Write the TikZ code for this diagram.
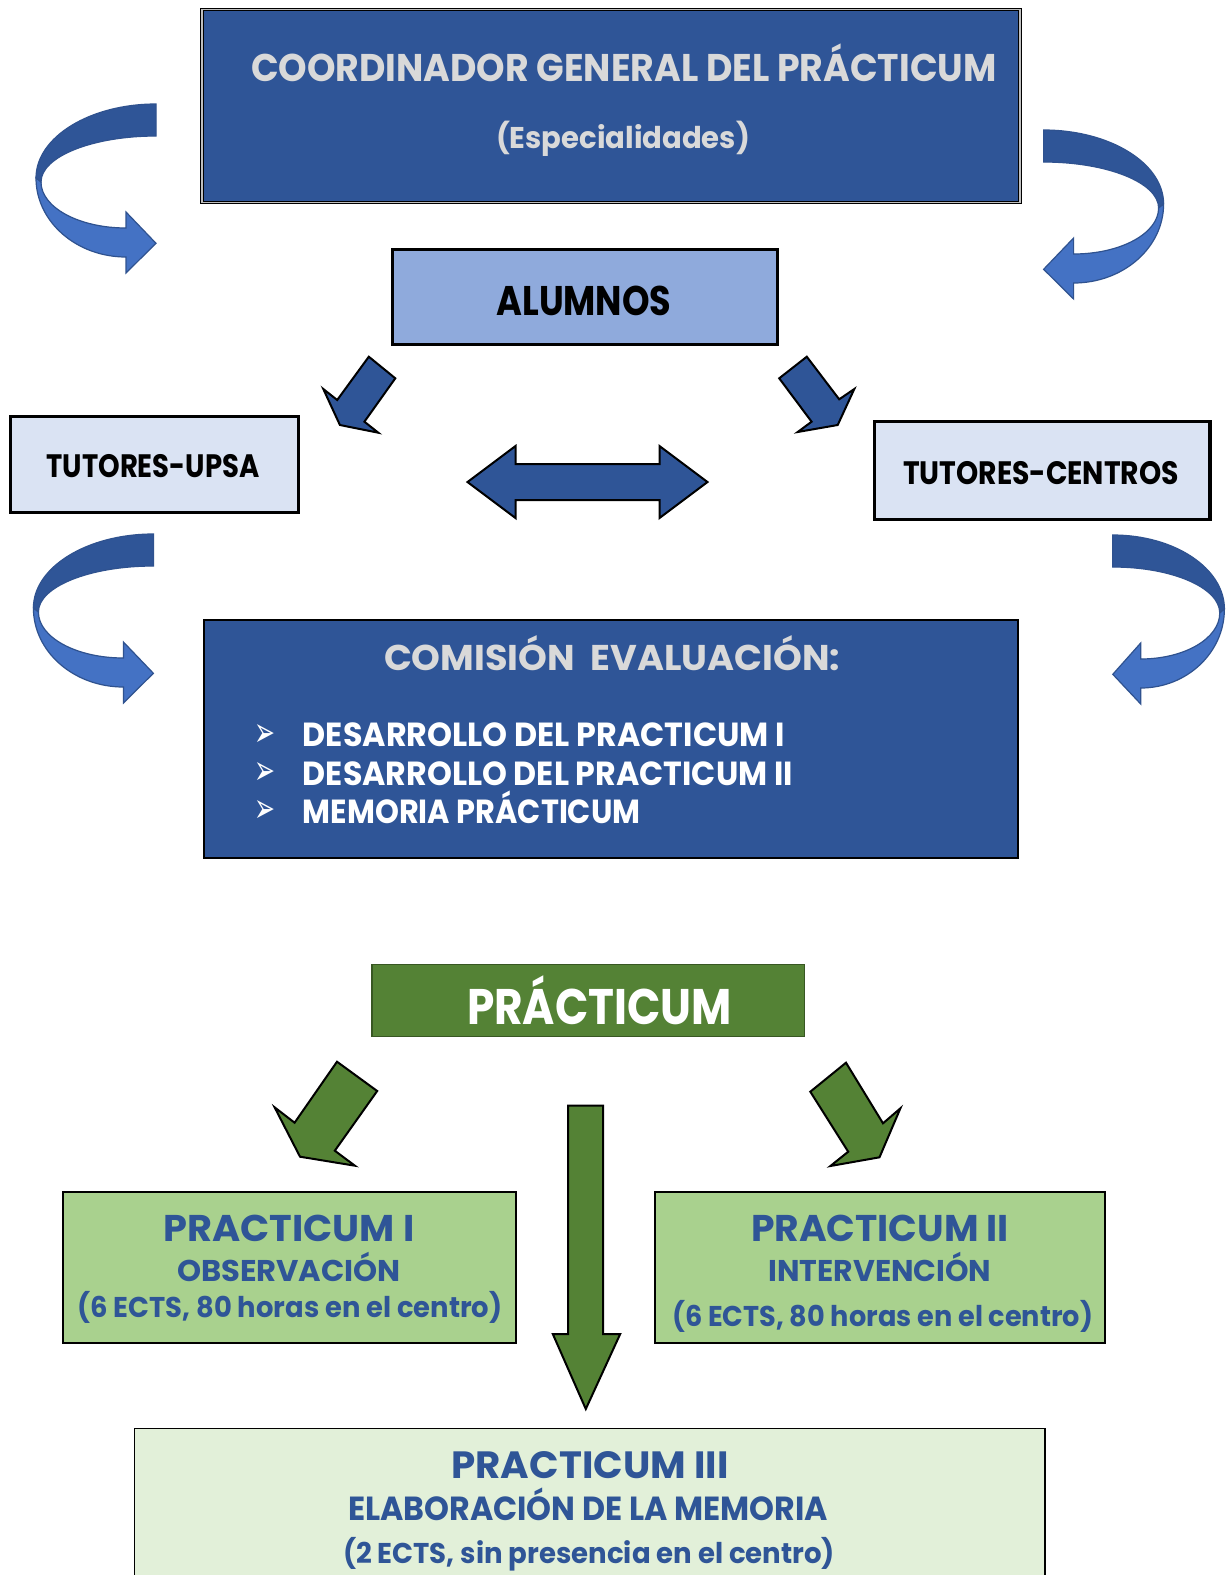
\documentclass[tikz,border=0pt]{standalone}
\usepackage{fontspec}
\usepackage{graphicx}
\newfontfamily\pop{Poppins}
\newfontfamily\dejavu{DejaVu Sans}
\definecolor{cdark}{HTML}{2F5597}
\definecolor{clight}{HTML}{4472C4}
\definecolor{cline}{HTML}{2F528F}
\definecolor{calum}{HTML}{8FAADC}
\definecolor{ctut}{HTML}{DAE3F3}
\definecolor{cgrey}{HTML}{D9D9D9}
\definecolor{cgreen}{HTML}{548235}
\definecolor{cgreenline}{HTML}{385723}
\definecolor{cgreenmid}{HTML}{A9D18E}
\definecolor{cgreenpale}{HTML}{E2F0D9}
\newlength\fitlen
\newcommand\fitw[2]{\settowidth{\fitlen}{#2}\pgfmathsetmacro\fitsx{#1/\fitlen}\scalebox{\fitsx}[1]{#2}}
\newcommand\fs[1]{\fontsize{#1}{#1}\selectfont}
\newcommand\ribbonarrow[3]{%
\begin{scope}[shift={(#1,#2)}, xscale=#3]
 \path[fill=cdark, draw=cline, line width=0.6pt] (0,0) .. controls (-66.2,0) and (-120,33.2) .. (-120,74) -- (-115,78) .. controls (-115,52.6) and (-63.5,32) .. (0,32) -- cycle;
 \path[fill=clight, draw=cline, line width=0.6pt] (-120,74) .. controls (-120,117.6) and (-79.7,153) .. (-30,153) -- (-30,169) -- (0,139.3) -- (-30,108) -- (-30,124) .. controls (-77,124) and (-115,103.4) .. (-115,78) -- cycle;
\end{scope}}
\tikzset{
 lbl/.style={anchor=base, inner sep=0pt},
 darkbox/.style={fill=cdark, draw=black, line width=1pt, inner sep=0pt},
 tutbox/.style={fill=ctut, draw=black, line width=1.6pt, inner sep=0pt},
 greenbox/.style={draw=black, line width=1pt, inner sep=0pt},
 bluearrow/.style={fill=cdark, draw=black, line width=1pt, line join=miter},
 greenarrow/.style={fill=cgreen, draw=black, line width=1pt, line join=miter},
 bullet/.style={anchor=center, inner sep=0pt, text=white, font=\dejavu\fs{13}},
}
\begin{document}
\begin{tikzpicture}[x=0.5pt,y=-0.5pt]
\useasboundingbox (0,0) rectangle (1232,1575);
\clip (0,0) rectangle (1232,1575);
\fill[white] (0,0) rectangle (1232,1575);

% Coordinator
\node[fill=cdark, draw=black, double=gray!50, double distance=0.8pt, line width=0.5pt, inner sep=0pt,
      minimum width=409pt, minimum height=96.5pt] (coord) at (610.9,105.8) {};
\node[lbl, text=cgrey, font=\pop\bfseries\fs{19.3}] (coordt) at (623.8,81.7) {\fitw{372.8pt}{COORDINADOR GENERAL DEL PRÁCTICUM}};
\node[lbl, text=cgrey, font=\pop\bfseries\fs{15}] (esp) at (623,148) {\fitw{127pt}{(Especialidades)}};

% Alumnos
\node[fill=calum, draw=black, line width=1.6pt, inner sep=0pt, minimum width=192.4pt, minimum height=47.3pt] (alum) at (585.25,297.15) {};
\node[lbl, font=\pop\bfseries\fs{20.7}] (alumt) at (584,315) {\fitw{87.5pt}{ALUMNOS}};

% Tutores
\node[tutbox, minimum width=144.3pt, minimum height=48pt] (tupsa) at (154.55,464.5) {};
\node[lbl, font=\pop\bfseries\fs{16.2}] (tupsat) at (153,477.7) {\fitw{106.5pt}{TUTORES-UPSA}};
\node[tutbox, minimum width=167.8pt, minimum height=48.8pt] (tcen) at (1042.2,470.35) {};
\node[lbl, font=\pop\bfseries\fs{16.2}] (tcent) at (1041,484.3) {\fitw{138pt}{TUTORES-CENTROS}};

% Comision
\node[darkbox, minimum width=407pt, minimum height=119pt] (com) at (611.2,739.3) {};
\node[lbl, text=cgrey, font=\pop\bfseries\fs{17.9}] (comt) at (612,670) {\fitw{228pt}{COMISIÓN\ \ EVALUACIÓN:}};
\node[bullet] (b1) at (264.5,735) {\resizebox*{10.5pt}{11pt}{➢}};
\node[bullet] (b2) at (264.5,773.3) {\resizebox*{10.5pt}{11pt}{➢}};
\node[bullet] (b3) at (264.5,811.7) {\resizebox*{10.5pt}{11pt}{➢}};
\node[anchor=base west, inner sep=0pt, text=white, font=\pop\bfseries\fs{16.7}] (l1) at (302.5,746.7) {\fitw{241pt}{DESARROLLO DEL PRACTICUM I}};
\node[anchor=base west, inner sep=0pt, text=white, font=\pop\bfseries\fs{16.7}] (l2) at (302.5,785) {\fitw{245pt}{DESARROLLO DEL PRACTICUM II}};
\node[anchor=base west, inner sep=0pt, text=white, font=\pop\bfseries\fs{16.7}] (l3) at (302.5,823.3) {\fitw{168.8pt}{MEMORIA PRÁCTICUM}};

% Curved ribbon arrows
\ribbonarrow{156}{104}{1}
\ribbonarrow{1043.6}{130}{-1}
\ribbonarrow{153.4}{534}{1}
\ribbonarrow{1112.8}{535}{-0.93}

% Blue block arrows
\path[bluearrow] (368.8,356.7) -- (395.3,378.3) -- (364.4,421.7) -- (378.3,432.7) -- (339.9,425) -- (323.3,389) -- (337.2,400) -- cycle;
\path[bluearrow] (779.2,378.3) -- (806.8,356.7) -- (839.2,399.3) -- (854.3,389) -- (837.7,425) -- (797.7,432) -- (811.6,421.7) -- cycle;
\path[bluearrow] (467.5,482) -- (515.5,446) -- (515.5,464) -- (659.5,464) -- (659.5,446) -- (707.5,482) -- (659.5,518) -- (659.5,500) -- (515.5,500) -- (515.5,518) -- cycle;

% Practicum
\node[fill=cgreen, draw=cgreenline, line width=0.6pt, inner sep=0pt, minimum width=216.3pt, minimum height=35.8pt] (prac) at (588.2,1000.65) {};
\node[lbl, text=white, font=\pop\bfseries\fs{25}] (pract) at (599.5,1024.3) {\fitw{132.5pt}{PRÁCTICUM}};

\path[greenarrow] (337,1061.7) -- (377.2,1091) -- (334.8,1150.7) -- (354.9,1165.7) -- (300,1156.7) -- (274.6,1107.3) -- (294.6,1122.7) -- cycle;
\path[greenarrow] (810.3,1091.7) -- (846,1062.7) -- (883,1123.3) -- (900.4,1108.3) -- (879.5,1157.3) -- (830.4,1166) -- (848.2,1151.7) -- cycle;
\path[greenarrow] (568,1105.7) -- (603,1105.7) -- (603,1334) -- (620.2,1334) -- (585.8,1409) -- (552.8,1334) -- (568,1334) -- cycle;

% Practicum I
\node[greenbox, fill=cgreenmid, minimum width=226.3pt, minimum height=75.5pt] (p1) at (289.7,1267.5) {};
\node[lbl, text=cdark, font=\pop\bfseries\fs{18.6}] (p1a) at (289,1241) {\fitw{125.5pt}{PRACTICUM I}};
\node[lbl, text=cdark, font=\pop\bfseries\fs{15}] (p1b) at (289,1281) {\fitw{112pt}{OBSERVACIÓN}};
\node[lbl, text=cdark, font=\pop\bfseries\fs{14.3}] (p1c) at (290,1317.3) {\fitw{212.5pt}{(6 ECTS, 80 horas en el centro)}};

% Practicum II
\node[greenbox, fill=cgreenmid, minimum width=224.9pt, minimum height=75.5pt] (p2) at (879.9,1267.5) {};
\node[lbl, text=cdark, font=\pop\bfseries\fs{18.6}] (p2a) at (880,1241) {\fitw{129pt}{PRACTICUM II}};
\node[lbl, text=cdark, font=\pop\bfseries\fs{15}] (p2b) at (880,1281.7) {\fitw{111.5pt}{INTERVENCIÓN}};
\node[lbl, text=cdark, font=\pop\bfseries\fs{14.3}] (p2c) at (882.7,1326.7) {\fitw{210.5pt}{(6 ECTS, 80 horas en el centro)}};

% Practicum III
\node[greenbox, fill=cgreenpale, line width=0.8pt, minimum width=455.2pt, minimum height=95.8pt] (p3) at (589.6,1524.15) {};
\node[lbl, text=cdark, font=\pop\bfseries\fs{19}] (p3a) at (590,1478.3) {\fitw{138.5pt}{PRACTICUM III}};
\node[lbl, text=cdark, font=\pop\bfseries\fs{16.7}] (p3b) at (588,1520.7) {\fitw{240pt}{ELABORACIÓN DE LA MEMORIA}};
\node[lbl, text=cdark, font=\pop\bfseries\fs{14.3}] (p3c) at (589,1563.3) {\fitw{246pt}{(2 ECTS, sin presencia en el centro)}};
\end{tikzpicture}
\end{document}
